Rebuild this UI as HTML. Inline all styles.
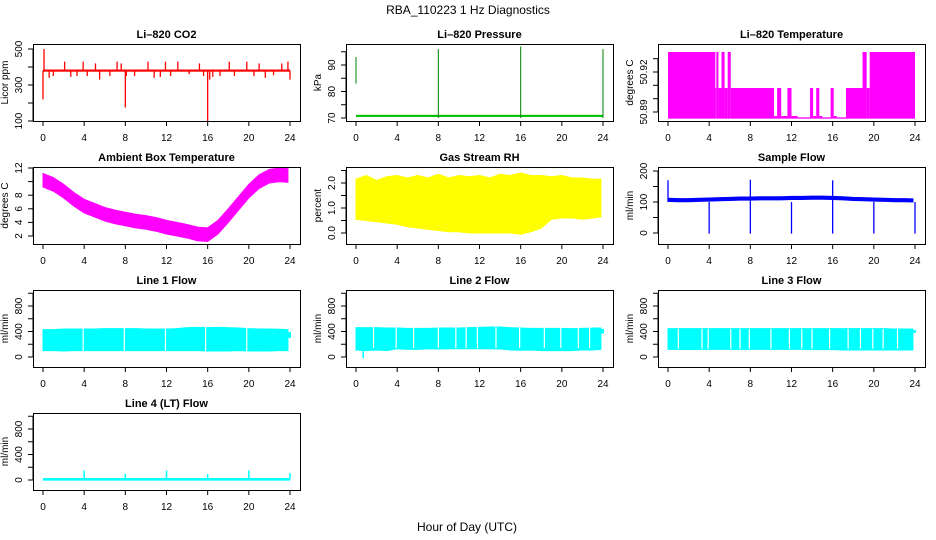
<!DOCTYPE html>
<html><head><meta charset="utf-8"><style>
html,body{margin:0;padding:0;background:#fff;}
svg{display:block;font-family:"Liberation Sans",sans-serif;}
</style></head><body>
<svg id="c" width="936" height="540" viewBox="0 0 936 540">
<text x="468" y="14" text-anchor="middle" font-size="12">RBA_110223  1 Hz Diagnostics</text>
<text x="467" y="531" text-anchor="middle" font-size="12">Hour of Day (UTC)</text>
</svg>
<script>
// ---------- data ----------
const hourTicks = [0,4,8,12,16,20,24];
const hours = [0,1,2,3,4,5,6,7,8,9,10,11,12,13,14,15,16,17,18,19,20,21,22,23,23.8];
// CO2
const co2Base = 380;
const co2SpikeX = [0,0.1,0.6,1.0,2.1,2.7,3.3,3.9,4.3,5.1,5.5,6.5,7.2,7.6,8.0,8.1,8.9,10.2,10.8,11.4,11.9,12.4,13.1,14.2,15.2,15.6,16.0,16.2,16.5,17.2,18.1,18.6,19.8,20.5,21.0,21.6,22.4,23.2,23.8,24];
const co2SpikeY = [220,500,340,350,430,345,350,430,350,420,330,350,430,420,175,350,350,430,340,345,430,350,430,360,420,350,100,330,345,350,430,350,430,350,420,340,355,420,430,330];
// Pressure
const presBase = 70.8;
const presSpikeX = [0,8,16,24];
const presSpikeLo = [83,70,70,70];
const presSpikeHi = [93,96,97,96];
// Li-820 temperature: segments [start,end,top]
const tempSegStart = [0,4.6,4.7,4.9,5.2,5.5,5.8,6.1,10.3,10.6,11.0,11.6,12.0,12.6,13.8,14.1,14.4,14.7,15.0,15.8,16.1,16.4,17.3,18.9,19.3,19.6];
const tempSegEnd   = [4.6,4.7,4.9,5.2,5.5,5.8,6.1,10.3,10.6,11.0,11.6,12.0,12.6,13.8,14.1,14.4,14.7,15.0,15.8,16.1,16.4,17.3,18.9,19.3,19.6,24];
const tempSegTop   = [50.935,50.908,50.935,50.908,50.935,50.908,50.935,50.908,50.887,50.908,50.887,50.908,50.887,50.886,50.908,50.887,50.908,50.887,50.886,50.908,50.887,50.886,50.908,50.935,50.908,50.935];
const tempMin = 50.885;
// Ambient box temperature (band center per hour)
const ambCenter = [10.2,9.6,8.6,7.4,6.4,5.8,5.2,4.8,4.5,4.2,4.0,3.7,3.3,3.0,2.7,2.3,2.2,3.3,5.0,6.8,8.6,10.0,10.8,11.0,10.9];
const ambHalf = 1.0;
// Gas stream RH (per hour envelope)
const rhLo = [0.55,0.5,0.45,0.4,0.35,0.25,0.2,0.15,0.1,0.05,0.05,0.0,0.0,0.0,0.0,0.0,-0.05,0.05,0.2,0.55,0.6,0.6,0.55,0.6,0.65];
const rhHi = [2.15,2.3,2.1,2.25,2.3,2.2,2.3,2.2,2.35,2.2,2.3,2.25,2.3,2.2,2.35,2.3,2.4,2.3,2.3,2.25,2.3,2.2,2.2,2.15,2.15];
// Sample flow
const sfBase = [107,106,106,107,108,109,110,111,111,112,112,112,113,113,114,114,113,112,110,109,108,107,106,106,105];
const sfDropX = [4,8,12,16,20,24];
const sfDropY = [-2,-2,-2,-2,-2,-2];
const sfPeakX = [0,8,16];
const sfPeakY = [170,172,170];
// Line flows
const l1Lo = [100,100,95,100,100,100,100,100,100,100,100,100,100,100,100,100,95,95,95,100,95,95,95,100,100];
const l1Hi = [430,430,440,440,440,440,445,445,445,445,440,440,440,445,460,465,460,465,460,455,445,440,440,435,430];
const l1Gaps = [3.9,7.9,11.9,15.8,19.8];
const l1Tail = [300,390];
const l2Lo = [110,100,110,100,130,120,120,130,125,130,130,130,130,130,125,110,105,110,100,100,100,100,110,110,120];
const l2Hi = [460,460,460,455,455,450,450,450,455,455,455,460,465,470,470,460,455,450,450,450,450,445,450,455,455];
const l2Gaps = [1.7,3.9,5.6,8.0,9.7,10.7,11.8,13.6,15.9,18.3,19.9,21.6,22.7];
const l2Tail = [370,440];
const l3Lo = [120,120,115,120,120,120,120,120,120,120,120,120,120,120,115,115,115,110,110,110,110,110,110,110,110];
const l3Hi = [445,445,445,445,445,445,445,445,445,445,445,445,445,445,445,445,445,445,445,445,445,445,440,440,440];
const l3Gaps = [1.0,3.3,3.9,6.1,7.0,7.9,10.0,11.8,13.0,14.0,15.7,17.5,18.7,19.9,20.9,22.3];
const l3Tail = [380,420];
const l4Base = 10;
const l4SpikeX = [4,8,12,16,20,24];
const l4SpikeY = [150,100,150,90,150,110];

// ---------- drawing ----------
const svg = document.getElementById('c');
const NS = 'http://www.w3.org/2000/svg';
function mk(tag, attrs, parent){const e=document.createElementNS(NS,tag);for(const k in attrs)e.setAttribute(k,attrs[k]);(parent||svg).appendChild(e);return e;}

const colX = [33,346,658];
const rowY = [44,167,290,413];
const W = 267, H = 77;

function panel(col,row,opt){
  const g = mk('g',{});
  
  
  const bx = colX[col], by = rowY[row];
  const x0 = bx+10, x1 = bx+257;
  const sx = v => x0 + (v/24)*(x1-x0);
  const sy = v => opt.py0 + (v-opt.v0)*(opt.py1-opt.py0)/(opt.v1-opt.v0);
  const t = mk('text',{x:bx+W/2,y:by-6,'text-anchor':'middle','font-size':11,'font-weight':'bold'},g);
  t.textContent = opt.title;
  
  
  const plot = mk('g',{},g);
  
  
  opt.draw(plot,sx,sy);
  const box = mk('rect',{x:bx+0.5,y:by+0.5,width:W,height:H,fill:'none',stroke:'#000','stroke-width':1},g);
  
  
  const xa = mk('g',{},g);
  
  
  hourTicks.forEach(h=>{
    mk('line',{x1:sx(h),x2:sx(h),y1:by+H,y2:by+H+5,stroke:'#000'},xa);
    const tl = mk('text',{x:sx(h),y:by+H+20,'text-anchor':'middle','font-size':10},xa);
    tl.textContent = h;
    
    
  });
  const ya = mk('g',{},g);
  
  
  const tmin = Math.min(...opt.ticks), tmax = Math.max(...opt.ticks);
  mk('line',{x1:bx,x2:bx,y1:sy(tmin),y2:sy(tmax),stroke:'#000'},ya);
  opt.ticks.forEach(v=>{
    const y = sy(v);
    mk('line',{x1:bx-5,x2:bx,y1:y,y2:y,stroke:'#000'},ya);
  });
  opt.labels.forEach(v=>{
    const y = sy(v);
    const tl = mk('text',{x:bx-11,y:y,'text-anchor':'middle','font-size':10,transform:`rotate(-90 ${bx-11} ${y})`},ya);
    tl.textContent = opt.fmt ? opt.fmt(v) : v;
    
    
  });
  const yl = mk('text',{x:bx-25,y:by+H/2,'text-anchor':'middle','font-size':10,transform:`rotate(-90 ${bx-25} ${by+H/2})`},g);
  yl.textContent = opt.ylab;
  
  
}

function band(p,sx,sy,lo,hi,color){
  let d='';
  hours.forEach((h,i)=>{d+=(i?'L':'M')+sx(h)+' '+sy(hi[i]);});
  for(let i=hours.length-1;i>=0;i--) d+='L'+sx(hours[i])+' '+sy(lo[i]);
  const e = mk('path',{d:d+'Z',fill:color,stroke:color,'stroke-width':1},p);
  
  
}
function gaps(p,sx,sy,arr,lo,hi){
  arr.forEach(h=>{
    const e = mk('line',{x1:sx(h),x2:sx(h),y1:sy(hi),y2:sy(lo),stroke:'#fff','stroke-width':1.2},p);
    
    
  });
}
function vseg(p,x,ya,yb,color,w,name){
  const e = mk('line',{x1:x,x2:x,y1:ya,y2:yb,stroke:color,'stroke-width':w||1.2},p);
  
  
}
function tail(p,sx,sy,t){
  const e = mk('rect',{x:sx(23.8),y:sy(t[1]),width:sx(24)-sx(23.8)+1,height:sy(t[0])-sy(t[1]),fill:'#0ff'},p);
  
  
}

panel(0,0,{name:'co2-panel',title:'Li\u2013820 CO2',ylab:'Licor ppm',v0:100,v1:500,py0:121,py1:49,
  ticks:[100,200,300,400,500],labels:[100,300,500],
  draw:(p,sx,sy)=>{
    const e = mk('rect',{x:sx(0),y:sy(co2Base+6),width:sx(24)-sx(0),height:sy(co2Base-6)-sy(co2Base+6),fill:'#f00'},p);
    
    
    co2SpikeX.forEach((x,i)=>vseg(p,sx(x),sy(co2Base),sy(co2SpikeY[i]),'#f00',1.3,'co2-spike'));
  }});
panel(1,0,{name:'pressure-panel',title:'Li\u2013820 Pressure',ylab:'kPa',v0:70,v1:90,py0:118,py1:65,
  ticks:[70,75,80,85,90,95],labels:[70,80,90],
  draw:(p,sx,sy)=>{
    const e = mk('rect',{x:sx(0),y:sy(presBase+0.4),width:sx(24)-sx(0),height:sy(presBase-0.4)-sy(presBase+0.4),fill:'#00c000'},p);
    
    
    presSpikeX.forEach((x,i)=>vseg(p,sx(x),sy(presSpikeLo[i]),sy(presSpikeHi[i]),'#008000',1,'pressure-spike'));
  }});
panel(2,0,{name:'li820-temperature-panel',title:'Li\u2013820 Temperature',ylab:'degrees C',v0:50.89,v1:50.92,py0:112,py1:72,
  ticks:[50.89,50.90,50.91,50.92,50.93],labels:[50.89,50.92],fmt:v=>v.toFixed(2),
  draw:(p,sx,sy)=>{
    tempSegStart.forEach((s,i)=>{
      const e = mk('rect',{x:sx(s),y:sy(tempSegTop[i]),width:sx(tempSegEnd[i])-sx(s),height:sy(tempMin)-sy(tempSegTop[i]),fill:'#f0f'},p);
      
      
    });
  }});
panel(0,1,{name:'ambient-temperature-panel',title:'Ambient Box Temperature',ylab:'degrees C',v0:2,v1:12,py0:236,py1:168,
  ticks:[2,4,6,8,10,12],labels:[2,4,6,8,12],
  draw:(p,sx,sy)=>{
    band(p,sx,sy,ambCenter.map(v=>v-ambHalf),ambCenter.map(v=>v+ambHalf),'#f0f');
  }});
panel(1,1,{name:'gas-stream-rh-panel',title:'Gas Stream RH',ylab:'percent',v0:0,v1:2,py0:233,py1:183,
  ticks:[0,0.5,1,1.5,2,2.5],labels:[0,1,2],fmt:v=>v.toFixed(1),
  draw:(p,sx,sy)=>{ band(p,sx,sy,rhLo,rhHi,'#ff0'); }});
panel(2,1,{name:'sample-flow-panel',title:'Sample Flow',ylab:'ml/min',v0:0,v1:200,py0:233,py1:171,
  ticks:[0,50,100,150,200],labels:[0,100,200],
  draw:(p,sx,sy)=>{
    band(p,sx,sy,sfBase.map(v=>v-5),sfBase.map(v=>v+5),'#00f');
    sfDropX.forEach((x,i)=>vseg(p,sx(x),sy(100),sy(sfDropY[i]),'#00f',1.3,'flow-drop'));
    sfPeakX.forEach((x,i)=>vseg(p,sx(x),sy(100),sy(sfPeakY[i]),'#00f',1.3,'flow-peak'));
  }});
const flowOpt = {ticks:[0,200,400,600,800,1000],labels:[0,400,800],v0:0,v1:800};
panel(0,2,Object.assign({name:'line1-flow-panel',title:'Line 1 Flow',ylab:'ml/min',py0:357,py1:306,
  draw:(p,sx,sy)=>{ band(p,sx,sy,l1Lo,l1Hi,'#0ff'); gaps(p,sx,sy,l1Gaps,90,470); tail(p,sx,sy,l1Tail); }},flowOpt));
panel(1,2,Object.assign({name:'line2-flow-panel',title:'Line 2 Flow',ylab:'ml/min',py0:357,py1:306,
  draw:(p,sx,sy)=>{ band(p,sx,sy,l2Lo,l2Hi,'#0ff'); gaps(p,sx,sy,l2Gaps,140,470); tail(p,sx,sy,l2Tail); vseg(p,sx(0.7),sy(100),sy(-20),'#0ff',1.5,'flow-dip'); }},flowOpt));
panel(2,2,Object.assign({name:'line3-flow-panel',title:'Line 3 Flow',ylab:'ml/min',py0:357,py1:306,
  draw:(p,sx,sy)=>{ band(p,sx,sy,l3Lo,l3Hi,'#0ff'); gaps(p,sx,sy,l3Gaps,130,440); tail(p,sx,sy,l3Tail); }},flowOpt));
panel(0,3,Object.assign({name:'line4-flow-panel',title:'Line 4 (LT) Flow',ylab:'ml/min',py0:480,py1:429,
  draw:(p,sx,sy)=>{
    const e = mk('rect',{x:sx(0),y:sy(l4Base+20),width:sx(24)-sx(0),height:sy(l4Base-20)-sy(l4Base+20),fill:'#0ff'},p);
    
    
    l4SpikeX.forEach((x,i)=>vseg(p,sx(x),sy(l4Base),sy(l4SpikeY[i]),'#0ff',1.5,'line4-spike'));
  }},flowOpt));
</script>
</body></html>
